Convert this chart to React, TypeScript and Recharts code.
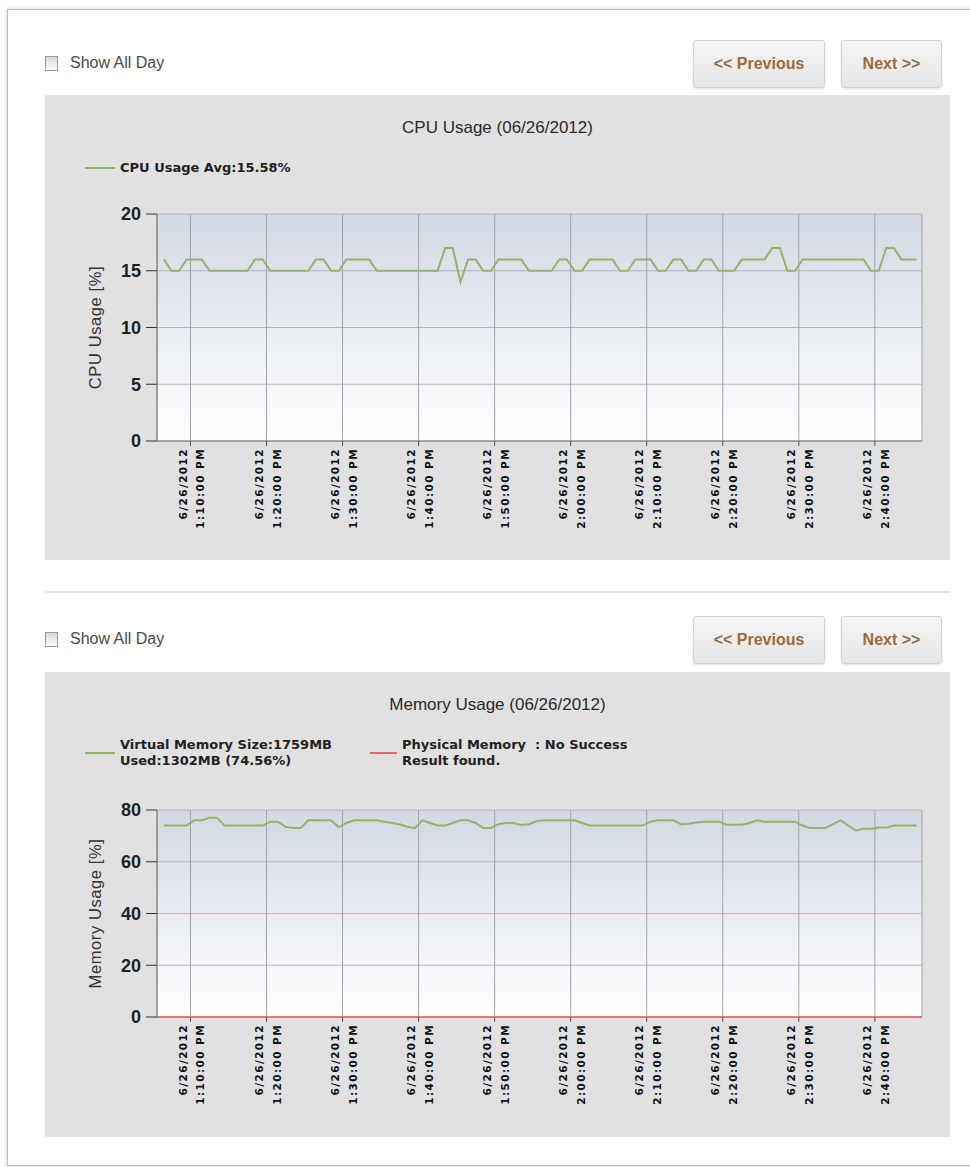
import React from "react";
import {
  LineChart,
  Line,
  XAxis,
  YAxis,
  CartesianGrid,
  ReferenceLine,
} from "recharts";

// one sample per minute, first one at 1:06:30 PM (minutes after 1:00 PM)
const START_MINUTE = 6.5;
const X_DOMAIN = [5.6, 106.2];

const TICK_MINUTES = [10, 20, 30, 40, 50, 60, 70, 80, 90, 100];
const TICK_DATES = [
  "6/26/2012", "6/26/2012", "6/26/2012", "6/26/2012", "6/26/2012",
  "6/26/2012", "6/26/2012", "6/26/2012", "6/26/2012", "6/26/2012",
];
const TICK_TIMES = [
  "1:10:00 PM", "1:20:00 PM", "1:30:00 PM", "1:40:00 PM", "1:50:00 PM",
  "2:00:00 PM", "2:10:00 PM", "2:20:00 PM", "2:30:00 PM", "2:40:00 PM",
];

const CPU_TICKS = [0, 5, 10, 15, 20];
const MEMORY_TICKS = [0, 20, 40, 60, 80];

const CPU_VALUES = [
  16, 15, 15, 16, 16, 16, 15, 15, 15, 15, 15, 15, 16, 16, 15, 15, 15, 15, 15, 15,
  16, 16, 15, 15, 16, 16, 16, 16, 15, 15, 15, 15, 15, 15, 15, 15, 15, 17, 17, 14,
  16, 16, 15, 15, 16, 16, 16, 16, 15, 15, 15, 15, 16, 16, 15, 15, 16, 16, 16, 16,
  15, 15, 16, 16, 16, 15, 15, 16, 16, 15, 15, 16, 16, 15, 15, 15, 16, 16, 16, 16,
  17, 17, 15, 15, 16, 16, 16, 16, 16, 16, 16, 16, 16, 15, 15, 17, 17, 16, 16, 16,
];

const MEMORY_VALUES = [
  74, 74, 74, 74, 76, 76, 77, 77, 74, 74, 74, 74, 74, 74, 75.5, 75.5, 73.5, 73, 73, 76,
  76, 76, 76, 73.3, 75, 76, 76, 76, 76, 75.5, 75, 74.5, 73.5, 73, 76, 75, 74, 74, 75, 76,
  76, 75, 73, 73, 74.5, 75, 75, 74.2, 74.5, 75.7, 76, 76, 76, 76, 76, 75, 74, 74, 74, 74,
  74, 74, 74, 74, 75.5, 76, 76, 76, 74.5, 74.7, 75.2, 75.5, 75.5, 75.5, 74.3, 74.3, 74.3, 75, 76, 75.5,
  75.5, 75.5, 75.5, 75.5, 74, 73, 73, 73, 74.5, 76, 74, 72, 72.8, 72.8, 73.2, 73.2, 74, 74, 74, 74,
];

const GREEN = "#93b566";
const PHYSICAL_COLOR = "#e06a6a";
const BUTTON_TEXT = "#9e6b3a";

const cpuData = CPU_VALUES.map((v, i) => ({ t: START_MINUTE + i, v }));
const memoryData = MEMORY_VALUES.map((v, i) => ({ t: START_MINUTE + i, v }));

function TimeTick({ x, y, payload }: any) {
  const idx = TICK_MINUTES.indexOf(payload.value);
  return (
    <g transform={`translate(${x},${y})`}>
      <text
        transform="rotate(-90)"
        textAnchor="end"
        fontSize={10.5}
        fontWeight="bold"
        letterSpacing={1.4}
        fontFamily="DejaVu Sans, sans-serif"
        fill="#111"
      >
        <tspan x={-2} y={-3.5}>{TICK_DATES[idx]}</tspan>
        <tspan x={-2} y={14}>{TICK_TIMES[idx]}</tspan>
      </text>
    </g>
  );
}

function AxisTitle({ viewBox, text }: any) {
  const cx = 50;
  const cy = viewBox ? viewBox.y + viewBox.height / 2 : 0;
  return (
    <text
      x={cx}
      y={cy}
      transform={`rotate(-90 ${cx} ${cy})`}
      textAnchor="middle"
      dominantBaseline="central"
      fontSize={16.5}
      letterSpacing={0.6}
      fill="#333"
      fontFamily="Liberation Sans, Arial, sans-serif"
    >
      {text}
    </text>
  );
}

function UsageChart({ id, data, yTicks, yLabel, hLineColor, marginTop, marginBottom, physical }: any) {
  return (
    <LineChart
      width={905}
      height={465}
      data={data}
      margin={{ top: marginTop, right: 28, bottom: marginBottom, left: 52 }}
    >
      <defs>
        <linearGradient id={id} x1="0" y1="0" x2="0" y2="1">
          <stop offset="0%" stopColor="#d2d9e4" />
          <stop offset="100%" stopColor="#ffffff" />
        </linearGradient>
      </defs>
      <CartesianGrid vertical={false} stroke={hLineColor} fill={`url(#${id})`} fillOpacity={1} />
      <CartesianGrid horizontal={false} stroke="#a3a5ad" />
      <XAxis
        type="number"
        dataKey="t"
        domain={X_DOMAIN}
        ticks={TICK_MINUTES}
        interval={0}
        allowDataOverflow
        height={100}
        tickSize={5}
        tickMargin={0}
        tick={<TimeTick />}
        axisLine={{ stroke: physical ? PHYSICAL_COLOR : "#777" }}
        tickLine={{ stroke: "#555" }}
      />
      <YAxis
        type="number"
        domain={[yTicks[0], yTicks[yTicks.length - 1]]}
        ticks={yTicks}
        width={60}
        tickSize={11}
        tickMargin={5}
        axisLine={{ stroke: "#777" }}
        tickLine={{ stroke: "#333" }}
        tick={{ fill: "#222", fontSize: 18, fontWeight: "bold", fontFamily: "Liberation Sans, Arial, sans-serif" }}
        label={<AxisTitle text={yLabel} />}
      />
      {physical && <ReferenceLine y={0} stroke={PHYSICAL_COLOR} strokeWidth={1.5} />}
      <Line
        type="linear"
        dataKey="v"
        stroke={GREEN}
        strokeWidth={2}
        dot={false}
        isAnimationActive={false}
      />
    </LineChart>
  );
}

function Toolbar({ top }: { top: number }) {
  const btn: React.CSSProperties = {
    position: "absolute",
    top,
    height: 46,
    border: "1px solid #d2d2d2",
    borderRadius: 3,
    background: "linear-gradient(#f4f4f4, #e6e6e6)",
    boxShadow: "0 1px 2px rgba(0,0,0,0.12)",
    color: BUTTON_TEXT,
    fontWeight: "bold",
    fontSize: 16,
    display: "flex",
    alignItems: "center",
    justifyContent: "center",
  };
  return (
    <>
      <div
        style={{
          position: "absolute",
          left: 45,
          top: top + 16,
          width: 11,
          height: 13,
          border: "1px solid #999",
          background: "linear-gradient(#dcdcdc, #fafafa)",
        }}
      />
      <div style={{ position: "absolute", left: 70, top: top + 14, fontSize: 16, color: "#4a4a4a" }}>
        Show All Day
      </div>
      <div style={{ ...btn, left: 693, width: 130 }}>&lt;&lt; Previous</div>
      <div style={{ ...btn, left: 841, width: 99 }}>Next &gt;&gt;</div>
    </>
  );
}

const legendText: React.CSSProperties = {
  position: "absolute",
  fontFamily: "DejaVu Sans, sans-serif",
  fontWeight: "bold",
  fontSize: 13,
  lineHeight: "16px",
  color: "#222",
};

const panelTitle: React.CSSProperties = {
  position: "absolute",
  left: 0,
  top: 23,
  width: "100%",
  textAlign: "center",
  fontSize: 17,
  color: "#2a2a2a",
};

export default function App() {
  return (
    <div
      style={{
        position: "relative",
        width: 970,
        height: 1167,
        overflow: "hidden",
        background: "#fff",
        fontFamily: "Liberation Sans, Arial, sans-serif",
      }}
    >
      <style>{"body{margin:0}"}</style>
      <div
        style={{
          position: "absolute",
          left: 7,
          top: 9,
          width: 990,
          height: 1155,
          border: "1px solid #bdbdbd",
          boxShadow: "0 0 4px rgba(0,0,0,0.2)",
        }}
      />

      <Toolbar top={40} />

      <div style={{ position: "absolute", left: 45, top: 95, width: 905, height: 465, background: "#e1e1e1" }}>
        <div style={panelTitle}>CPU Usage (06/26/2012)</div>
        <div style={{ position: "absolute", left: 40, top: 72, width: 30, height: 2, background: GREEN }} />
        <div style={{ ...legendText, left: 75, top: 65 }}>CPU Usage Avg:15.58%</div>
        <div style={{ position: "absolute", left: 0, top: 0 }}>
          <UsageChart
            id="cpuBg"
            data={cpuData}
            yTicks={CPU_TICKS}
            yLabel="CPU Usage [%]"
            hLineColor="#b2b4bc"
            marginTop={119}
            marginBottom={19}
          />
        </div>
      </div>

      <div style={{ position: "absolute", left: 45, top: 591, width: 905, height: 2, background: "#e2e2e2" }} />

      <Toolbar top={616} />

      <div style={{ position: "absolute", left: 45, top: 672, width: 905, height: 465, background: "#e1e1e1" }}>
        <div style={panelTitle}>Memory Usage (06/26/2012)</div>
        <div style={{ position: "absolute", left: 40, top: 80, width: 30, height: 2, background: GREEN }} />
        <div style={{ ...legendText, left: 75, top: 65 }}>
          Virtual Memory Size:1759MB
          <br />
          Used:1302MB (74.56%)
        </div>
        <div style={{ position: "absolute", left: 325, top: 80, width: 27, height: 2, background: PHYSICAL_COLOR }} />
        <div style={{ ...legendText, left: 357, top: 65 }}>
          Physical Memory&nbsp; : No Success
          <br />
          Result found.
        </div>
        <div style={{ position: "absolute", left: 0, top: 0 }}>
          <UsageChart
            id="memBg"
            data={memoryData}
            yTicks={MEMORY_TICKS}
            yLabel="Memory Usage [%]"
            hLineColor="#c9b2b7"
            marginTop={138}
            marginBottom={20}
            physical
          />
        </div>
      </div>
    </div>
  );
}
